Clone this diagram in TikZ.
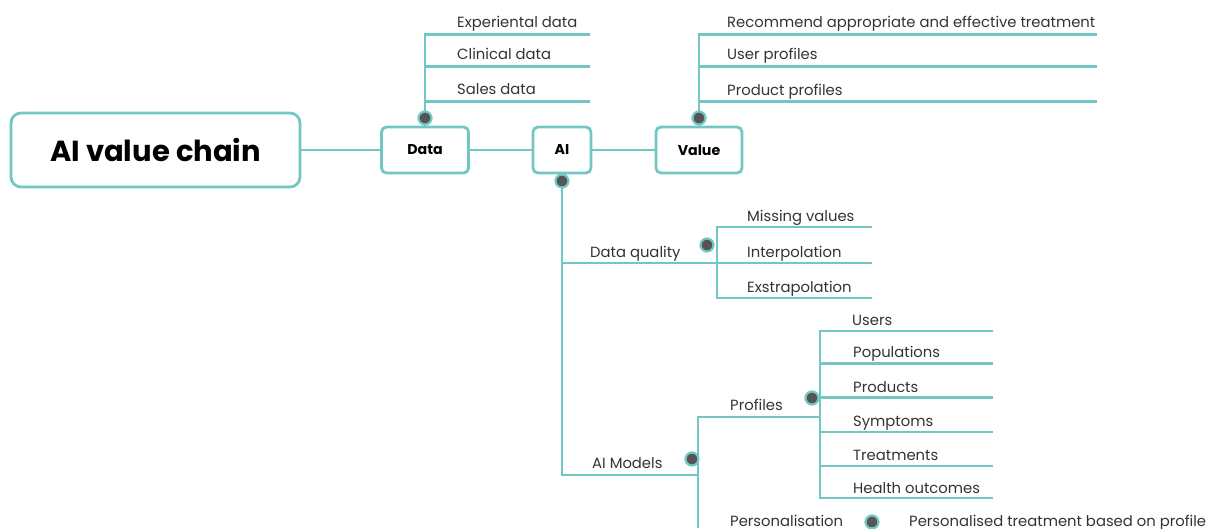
\documentclass[tikz,border=0pt]{standalone}
\usepackage{fontspec}
\setmainfont{Poppins}
\definecolor{tealc}{HTML}{72C6C3}
\definecolor{dotg}{HTML}{555555}
\begin{document}
\begin{tikzpicture}[x=1pt,y=-1pt,
  line/.style={draw=tealc,line width=2.8pt},
  box/.style={draw=tealc,line width=2.8pt,rounded corners=5pt,fill=white,inner sep=0pt,font=\bfseries\fontsize{14.2}{16}\selectfont},
  lbl/.style={anchor=base west,inner sep=0pt,font=\fontsize{14.8}{17}\selectfont,text=black!80},
  dot/.style={circle,fill=dotg,draw=tealc,line width=2.2pt,minimum size=13pt,inner sep=0pt}]
\useasboundingbox (0,0) rectangle (1212,528);
% main boxes
\node[box,rounded corners=10pt,minimum width=289pt,minimum height=74pt,font=\bfseries\fontsize{29}{34}\selectfont] (main) at (155.5,150) {AI value chain};
\node[box,minimum width=87pt,minimum height=46pt] (data) at (425,150) {Data};
\node[box,minimum width=58pt,minimum height=46pt] (ai) at (562,150) {AI};
\node[box,minimum width=86pt,minimum height=46pt] (value) at (699,150) {Value};
\draw[line] (main.east) -- (data.west);
\draw[line] (data.east) -- (ai.west);
\draw[line] (ai.east) -- (value.west);
% Data branch
\coordinate (d1) at (425,34.5);
\coordinate (d1e) at (590,34.5);
\coordinate (d2) at (425,66.5);
\coordinate (d2e) at (590,66.5);
\coordinate (d3) at (425,101.5);
\coordinate (d3e) at (590,101.5);
\draw[line] (d1e) -- (d1) -- (data.north);
\draw[line] (d2) -- (d2e);
\draw[line] (d3) -- (d3e);
\node[lbl] (exp) at (457,27) {Experiental data};
\node[lbl] (cli) at (457,59) {Clinical data};
\node[lbl] (sal) at (457,94) {Sales data};
% Value branch
\coordinate (v1) at (699,34.5);
\coordinate (v1e) at (1097,34.5);
\coordinate (v2) at (699,66.5);
\coordinate (v2e) at (1097,66.5);
\coordinate (v3) at (699,101.5);
\coordinate (v3e) at (1097,101.5);
\draw[line] (v1e) -- (v1) -- (value.north);
\draw[line] (v2) -- (v2e);
\draw[line] (v3) -- (v3e);
\node[lbl] (rec) at (727,27) {Recommend appropriate and effective treatment};
\node[lbl] (upr) at (727,59) {User profiles};
\node[lbl] (ppr) at (727,95) {Product profiles};
% AI branch
\coordinate (aq) at (562,263);
\coordinate (am) at (562,475);
\coordinate (qj) at (717,263);
\coordinate (mj) at (698,475);
\draw[line] (ai.south) -- (am) -- (mj);
\draw[line] (aq) -- (qj);
\node[lbl] (dq) at (590,257) {Data quality};
\node[lbl] (aim) at (592,468) {AI Models};
% Data quality bracket
\coordinate (q1) at (717,227);
\coordinate (q1e) at (872,227);
\coordinate (q2e) at (872,263);
\coordinate (q3) at (717,298);
\coordinate (q3e) at (872,298);
\draw[line] (q1e) -- (q1) -- (q3) -- (q3e);
\draw[line] (qj) -- (q2e);
\node[lbl] (mv) at (747,221) {Missing values};
\node[lbl] (ip) at (747,257) {Interpolation};
\node[lbl] (ep) at (747,292) {Exstrapolation};
% AI Models branch
\coordinate (m1) at (698,417);
\coordinate (m1e) at (820,417);
\coordinate (mb) at (698,528);
\draw[line] (m1e) -- (m1) -- (mb);
\node[lbl] (pro) at (730,410) {Profiles};
% Profiles bracket
\coordinate (p1) at (820,331);
\coordinate (p1e) at (993,331);
\coordinate (p2) at (820,363.5);
\coordinate (p2e) at (993,363.5);
\coordinate (p3) at (820,397.5);
\coordinate (p3e) at (993,397.5);
\coordinate (p4) at (820,432);
\coordinate (p4e) at (993,432);
\coordinate (p5) at (820,466);
\coordinate (p5e) at (993,466);
\coordinate (p6) at (820,498);
\coordinate (p6e) at (993,498);
\draw[line] (p1e) -- (p1) -- (p6) -- (p6e);
\draw[line] (p2) -- (p2e);
\draw[line] (p3) -- (p3e);
\draw[line] (p4) -- (p4e);
\draw[line] (p5) -- (p5e);
\node[lbl] (us) at (852,325) {Users};
\node[lbl] (po) at (853,357) {Populations};
\node[lbl] (pd) at (853,392) {Products};
\node[lbl] (sy) at (853,426) {Symptoms};
\node[lbl] (tr) at (853,460) {Treatments};
\node[lbl] (ho) at (853,493) {Health outcomes};
% Personalisation
\node[lbl] (pers) at (730,526) {Personalisation};
\node[lbl] (pt) at (909,526) {Personalised treatment based on profile};
% dots
\node[dot] (ddot) at (425,118) {};
\node[dot] (vdot) at (699,118) {};
\node[dot] (adot) at (562,181) {};
\node[dot] (qdot) at (707,245) {};
\node[dot] (mdot) at (692,459) {};
\node[dot] (pdot) at (812,398) {};
\node[dot] (sdot) at (872,522) {};
\end{tikzpicture}
\end{document}
